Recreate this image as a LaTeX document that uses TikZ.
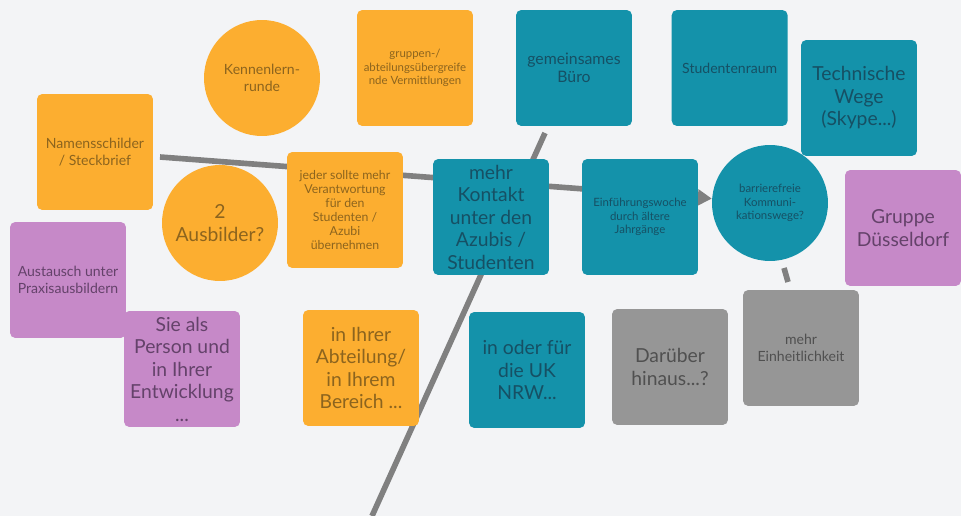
\documentclass[tikz,border=0pt]{standalone}
\usepackage{fontspec}
\setmainfont{Lato}
\usetikzlibrary{arrows.meta}
\usetikzlibrary{backgrounds}
\usetikzlibrary{positioning}
\definecolor{bgcol}{RGB}{243,244,246}
\definecolor{orfill}{RGB}{252,174,48}
\definecolor{ortext}{RGB}{140,100,30}
\definecolor{tlfill}{RGB}{20,146,170}
\definecolor{tltext}{RGB}{22,80,100}
\definecolor{pufill}{RGB}{198,137,200}
\definecolor{putext}{RGB}{100,66,106}
\definecolor{grfill}{RGB}{150,150,150}
\definecolor{grtext}{RGB}{80,80,80}
\definecolor{barcol}{RGB}{128,128,128}
\tikzset{
  x = 0.02cm, y = -0.02cm,
  card/.style = {rectangle, rounded corners = 3pt, minimum width = 2.32cm, minimum height = 2.32cm, align = center, inner sep = 1pt},
  blob/.style = {circle, minimum size = 2.32cm, align = center, inner sep = 1pt},
  orange/.style = {fill = orfill, text = ortext},
  teal/.style = {fill = tlfill, text = tltext},
  purple/.style = {fill = pufill, text = putext},
  grey/.style = {fill = grfill, text = grtext},
  big/.style = {font = \fontsize{11}{12.8}\selectfont},
  small/.style = {font = \fontsize{8}{9.6}\selectfont},
  tiny/.style = {font = \fontsize{6.5}{7.5}\selectfont},
  bar/.style = {draw = barcol, line width = 3.2pt},
}

\begin{document}
\begin{tikzpicture}
  \useasboundingbox (0,0) rectangle (961,516);
  % orange
  \node [card, orange, small] (namen) at (95,152) {Namensschilder\\/ Steckbrief};
  \node [blob, orange, small] (kennen) at (262,78) {Kennenlern-\\runde};
  \node [card, orange, tiny] (gruppen) at (415,68) {gruppen-/\\abteilungsübergreife\\nde Vermittlungen};
  \node [blob, orange, big] (ausb) at (220,223) {2\\Ausbilder?};
  \node [card, orange, tiny, font = \fontsize{7}{8}\selectfont] (jeder) at (345,210) {jeder sollte mehr\\Verantwortung\\für den\\Studenten /\\Azubi\\übernehmen};
  \node [card, orange, big] (abt) at (361,368) {in Ihrer\\Abteilung/\\in Ihrem\\Bereich ...};
  % teal
  \node [card, teal, big] (kontakt) at (491,217) {mehr\\Kontakt\\unter den\\Azubis /\\Studenten};
  \node [card, teal, small, font = \fontsize{9}{10}\selectfont] (buero) at (574,68) {gemeinsames\\Büro};
  \node [card, teal, small, right = 0.78cm of buero] (raum) {Studentenraum};
  \node [card, teal, big] (technik) at (859,98) {Technische\\Wege\\(Skype...)};
  \node [card, teal, tiny] (woche) at (640,217) {Einführungswoche\\durch ältere\\Jahrgänge};
  \node [blob, teal, tiny] (barr) at (770,203) {barrierefreie\\Kommuni-\\kationswege?};
  \node [card, teal, big] (uknrw) at (527,370) {in oder für\\die UK\\NRW...};
  % purple
  \node [card, purple, big] (ddorf) at (903,228) {Gruppe\\Düsseldorf};
  \node [card, purple, small] (praxis) at (68,280) {Austausch unter\\Praxisausbildern};
  \node [card, purple, big] (person) at (182,369) {Sie als\\Person und\\in Ihrer\\Entwicklung\\...};
  % grey
  \node [card, grey, big] (hinaus) at (670,367) {Darüber\\hinaus...?};
  \node [card, grey, small] (einheit) at (801,348) {mehr\\Einheitlichkeit};
  % lines
  \coordinate (lstart) at (160,157);
  \coordinate (dtop) at (545,133);
  \coordinate (dbot) at (372,516);
  \coordinate (tick1) at (784,268);
  \coordinate (tick2) at (788,282);
  \begin{pgfonlayer}{background}
    \fill [bgcol] (0,0) rectangle (961,516);
    \draw [bar, -{Triangle[length = 8pt, width = 9pt]}] (lstart) -- (barr);
    \draw [bar] (dtop) -- (dbot);
    \draw [bar] (tick1) -- (tick2);
  \end{pgfonlayer}
\end{tikzpicture}
\end{document}
